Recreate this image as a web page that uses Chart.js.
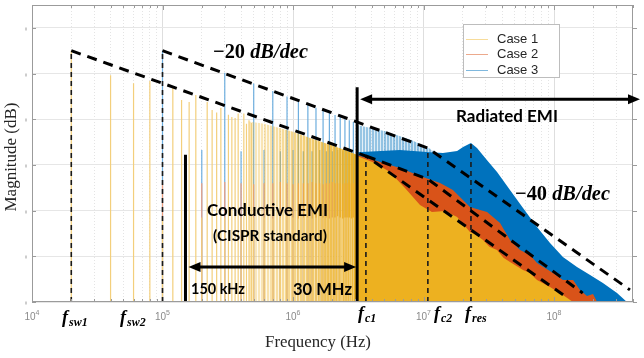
<!DOCTYPE html>
<html>
<head>
<meta charset="utf-8">
<title>EMI spectrum</title>
<script src="https://cdn.jsdelivr.net/npm/chart.js@4.4.1/dist/chart.umd.min.js"></script>
<style>
  html, body { margin: 0; padding: 0; background: #fff; }
  canvas { display: block; }
</style>
</head>
<body>
<canvas id="emiChart" width="644" height="358"></canvas>
<script>
// axes
const xMin = 1e4, xMax = 4.03e8;
const yMax = 130, yStep = 20;
const decadeTicks = [1e4, 1e5, 1e6, 1e7, 1e8];
const decadeExp = ['4', '5', '6', '7', '8'];

// Case 1 separate harmonics (Hz, dB)
const case1Freq = [2e4, 4e4, 6e4, 8e4, 1e5, 1.2e5, 1.4e5, 1.6e5, 1.8e5, 2e5, 2.2e5, 2.4e5, 2.6e5, 2.8e5, 3e5,
  3.2e5, 3.4e5, 3.6e5, 3.8e5, 4e5, 4.2e5, 4.4e5, 4.6e5, 4.8e5, 5e5,
  6e5, 7e5, 8e5, 9e5, 1e6, 1.1e6, 1.2e6, 1.3e6, 1.4e6, 1.5e6, 1.6e6, 1.7e6, 1.8e6, 1.9e6, 2e6,
  2.1e6, 2.2e6, 2.3e6, 2.4e6, 2.5e6, 2.6e6, 2.7e6, 2.8e6, 2.9e6];
const case1Mag = [110, 99.3, 95.8, 96.7, 37, 94.1, 88.4, 87.5, 90.6, 37, 87.5, 84, 83, 85, 37,
  82, 81, 80.5, 82.5, 37, 82.5, 78, 79.5, 78.5, 37,
  37, 36.5, 37, 37.5, 37, 36.5, 37, 37, 36.5, 37, 37.5, 37, 37, 36.5, 37,
  37, 37.5, 37, 36.5, 37, 37, 37, 36.5, 37];
// Case 1 dense comb (top of the harmonics) and continuous part
const case1BandFreq = [4.6e5, 6e5, 8e5, 1e6, 1.4e6, 2e6, 2.5e6, 3.09e6];
const case1BandMag = [79, 78, 76, 74.5, 71.5, 68.5, 66.5, 64.5];
const case1AreaFreq = [3.09e6, 4.25e6, 5.53e6, 7.21e6, 9.4e6, 1.16e7, 1.46e7, 1.81e7, 2.27e7, 2.5e7, 2.86e7,
  3.2e7, 3.66e7, 4.1e7, 4.6e7, 5.79e7, 6.5e7, 7.41e7, 9.32e7, 1.17e8, 1.4e8];
const case1AreaMag = [63.9, 60.8, 56.9, 49.9, 42.5, 39.4, 39.8, 37.2, 30.6, 29.5, 27.1,
  24.2, 22.8, 19.4, 17.5, 14.0, 12.8, 9.6, 6.6, 3.1, 0];

// harmonics of f_sw2 shared by Case 2 and Case 3
const combFreq = [1e5, 2e5, 3e5, 4e5, 5e5, 6e5, 7e5, 8e5, 9e5, 1e6, 1.1e6, 1.2e6, 1.3e6, 1.4e6, 1.5e6,
  1.6e6, 1.7e6, 1.8e6, 1.9e6, 2e6, 2.1e6, 2.2e6, 2.3e6, 2.4e6, 2.5e6, 2.6e6, 2.7e6, 2.8e6, 2.9e6];
const case2Mag = [52, 52, 52.5, 52, 51.5, 52, 52, 52.5, 52, 51.5, 52, 52, 52, 52.5, 52,
  52, 51.5, 52, 52, 52.5, 52, 52, 52, 51.5, 52, 52, 52.5, 52, 52];
const case3Mag = [110, 66.5, 100.3, 66, 95.6, 66.5, 92.4, 66, 90, 66.5, 88, 66, 86.5, 66, 85,
  66.5, 83.8, 66, 82.8, 66, 81.8, 66.5, 81, 66, 80.2, 66, 79.5, 66, 78.8];

// Case 2 continuous part
const case2AreaFreq = [3.09e6, 4.65e6, 6.6e6, 9.4e6, 1.34e7, 1.68e7, 2.27e7, 2.71e7, 3.07e7, 3.86e7, 4.6e7,
  5.49e7, 6.55e7, 7.41e7, 9.83e7, 1.17e8, 1.4e8, 1.58e8, 1.79e8, 1.99e8, 2.14e8];
const case2AreaMag = [64.3, 61.3, 58.6, 55.1, 52.1, 49.0, 41.6, 40.3, 39.4, 34.6, 27.1,
  22.8, 20.6, 17.1, 12.7, 9.6, 9.6, 5.3, 2.6, 3.5, 0];

// Case 3 dense comb and continuous part
const case3BandFreq = [3.09e6, 5e6, 8e6, 1.1e7, 1.2e7];
const case3BandMag = [77.5, 74.8, 71, 67.3, 65.8];
const case3AreaFreq = [3.09e6, 6.6e6, 1.12e7, 1.41e7, 1.81e7, 2.01e7, 2.31e7, 2.57e7, 3.07e7, 3.66e7, 4.6e7,
  5.79e7, 7.41e7, 9.32e7, 1.17e8, 1.5e8, 1.89e8, 2.37e8, 3.04e8, 3.62e8];
const case3AreaMag = [65.6, 66.5, 65.6, 65.2, 66.1, 67.8, 69.6, 67.4, 62.1, 56.9, 49.0,
  41.1, 32.8, 25.8, 19.7, 15.3, 11.8, 8.3, 3.9, 0];

// asymptotes (-20 / -40 dB/dec)
const env1Freq = [2e4, 3.62e6, 1.27e8], env1Mag = [110, 63.9, 1.8];
const env2Freq = [3.62e6, 1.08e7, 1.66e8], env2Mag = [63.9, 53.8, 3.9];
const env3Freq = [1e5, 1.08e7, 3.82e8], env3Mag = [110, 67.4, 5.3];

// f_sw1, f_sw2, f_c1, f_c2, f_res markers
const markerFreq = [2e4, 1e5, 3.62e6, 1.08e7, 2.31e7];
const markerTop = [110, 110, 63.9, 67, 69.6];
// 150 kHz and "30 MHz" limits
const limitFreq = [1.5e5, 3.1e6];
const limitTop = [64.5, 94];

const caseNames = ['Case 1', 'Case 2', 'Case 3'];
const caseColors = ['#EDB120', '#D95319', '#0072BD'];
const stemColors = ['#f3cf7c', '#ef9f80', '#6eaede'];

function points(freq, mag) {
  return freq.map((f, i) => ({ x: f, y: mag[i] }));
}

function stems(freq, mag) {
  const pts = [];
  freq.forEach((f, i) => {
    pts.push({ x: f, y: 0 }, { x: f, y: mag[i] }, { x: f, y: null });
  });
  return pts;
}

const gridFreq = [];
for (let d = 4; d <= 8; d++) {
  for (let m = 1; m <= 9; m++) {
    const v = m * Math.pow(10, d);
    if (v <= xMax) gridFreq.push(v);
  }
}
const isDecade = v => Math.abs(Math.log10(v) - Math.round(Math.log10(v))) < 1e-9;

function area(freq, mag, color, order) {
  return { data: points(freq, mag), fill: 'origin', backgroundColor: color, borderWidth: 0, pointRadius: 0, order };
}
function stemSet(freq, mag, color, width, order, dash) {
  return { data: stems(freq, mag), borderColor: color, borderWidth: width, pointRadius: 0, fill: false,
    borderDash: dash || [], order };
}
function envSet(freq, mag) {
  return { data: points(freq, mag), borderColor: '#000', borderWidth: 3, borderDash: [10, 7],
    pointRadius: 0, fill: false, order: 2 };
}

// striped fill for the dense comb of harmonics, fading in from left to right
function combTexture(freq, rgb, a0, a1, offFrom, offTo) {
  return ctx => {
    const chart = ctx.chart;
    if (!chart.chartArea) return 'rgba(' + rgb + ',' + a1 + ')';
    const xs = chart.scales.x;
    const off = document.createElement('canvas');
    off.width = chart.width;
    off.height = 1;
    const o = off.getContext('2d');
    const x0 = Math.floor(xs.getPixelForValue(freq[0]));
    const x1 = Math.ceil(xs.getPixelForValue(freq[freq.length - 1]));
    for (let x = x0; x <= x1; x++) {
      const t = (x - x0) / Math.max(1, x1 - x0);
      const alpha = a0 + (a1 - a0) * Math.pow(t, 1.2);
      const k = (x % 3 === 2) ? offFrom + (offTo - offFrom) * t : 1;
      o.fillStyle = 'rgba(' + rgb + ',' + (alpha * k).toFixed(3) + ')';
      o.fillRect(x, 0, 1, 1);
    }
    return chart.ctx.createPattern(off, 'repeat-y');
  };
}

const datasets = [
  area(case3BandFreq, case3BandMag, combTexture(case3BandFreq, '0,114,189', 0.4, 0.5, 0.25, 0.45), 20),
  area(case3AreaFreq, case3AreaMag, caseColors[2], 19),
  stemSet(combFreq, case3Mag, stemColors[2], 1.2, 18),
  area(case2AreaFreq, case2AreaMag, caseColors[1], 17),
  stemSet(combFreq, case2Mag, stemColors[1], 1.2, 16),
  area(case1BandFreq, case1BandMag, combTexture(case1BandFreq, '237,177,32', 0.28, 1, 0.15, 0.8), 15),
  area(case1AreaFreq, case1AreaMag, caseColors[0], 14),
  stemSet(case1Freq, case1Mag, stemColors[0], 1.2, 13),
  stemSet(markerFreq, markerTop, '#1a1a1a', 1.6, 4, [5, 4]),
  stemSet(limitFreq, limitTop, '#000', 3, 3),
  envSet(env1Freq, env1Mag),
  envSet(env2Freq, env2Mag),
  envSet(env3Freq, env3Mag)
];

function textW(c, txt, cx, cy, w, font) {
  c.font = font(20);
  const s = 20 * w / c.measureText(txt).width;
  c.font = font(s);
  c.textAlign = 'center';
  c.textBaseline = 'middle';
  c.fillText(txt, cx, cy);
}

// "-20 dB/dec": upright number, italic unit, scaled to a width
function slopeText(c, num, unit, cx, cy, w) {
  const up = s => 'bold ' + s + 'px "Liberation Serif"';
  const it = s => 'bold italic ' + s + 'px "Liberation Serif"';
  c.font = up(20);
  const a = c.measureText(num).width;
  c.font = it(20);
  const b = c.measureText(unit).width;
  const s = 20 * w / (a + b);
  c.textAlign = 'left';
  c.textBaseline = 'middle';
  const x0 = cx - w / 2;
  c.font = up(s);
  c.fillText(num, x0, cy);
  c.font = it(s);
  c.fillText(unit, x0 + a * s / 20, cy);
}

function arrowHead(c, tipX, y, dir) {
  c.beginPath();
  c.moveTo(tipX, y);
  c.lineTo(tipX - dir * 12, y - 5);
  c.lineTo(tipX - dir * 12, y + 5);
  c.closePath();
  c.fill();
}

function arrow(c, x1, x2, y) {
  c.lineWidth = 3;
  c.beginPath();
  c.moveTo(x1 + 8, y);
  c.lineTo(x2 - 8, y);
  c.stroke();
  arrowHead(c, x1, y, -1);
  arrowHead(c, x2, y, 1);
}

function fLabel(c, sub, x, base) {
  c.textAlign = 'left';
  c.textBaseline = 'alphabetic';
  c.font = 'bold italic 18px "Liberation Serif"';
  c.fillText('f', x, base);
  const w = c.measureText('f').width;
  c.font = 'bold italic 12px "Liberation Serif"';
  c.fillText(sub, x + w + 1, base + 3);
}

const overlay = {
  id: 'overlay',
  afterDraw(chart) {
    const c = chart.ctx, a = chart.chartArea, xs = chart.scales.x, ys = chart.scales.y;
    c.save();

    // box and inward ticks
    c.strokeStyle = '#9b9b9b';
    c.lineWidth = 1;
    c.strokeRect(a.left + 0.5, a.top + 0.5, a.right - a.left - 1, a.bottom - a.top - 1);
    c.beginPath();
    gridFreq.forEach(v => {
      const x = Math.round(xs.getPixelForValue(v)) + 0.5;
      const len = isDecade(v) ? 5 : 3;
      c.moveTo(x, a.top); c.lineTo(x, a.top + len);
      c.moveTo(x, a.bottom); c.lineTo(x, a.bottom - len);
    });
    for (let v = 0; v <= 120; v += yStep) {
      const y = Math.round(ys.getPixelForValue(v)) + 0.5;
      c.moveTo(a.left, y); c.lineTo(a.left + 4, y);
      c.moveTo(a.right, y); c.lineTo(a.right + 4, y);
      c.moveTo(a.left - 6, y - 1); c.lineTo(a.left - 6, y + 2);
    }
    c.stroke();

    // decade labels 10^n
    c.fillStyle = '#8a8a8a';
    c.textBaseline = 'alphabetic';
    decadeTicks.forEach((v, i) => {
      const x = xs.getPixelForValue(v);
      c.font = '10px "Liberation Sans"';
      const w1 = c.measureText('10').width;
      c.font = '7px "Liberation Sans"';
      const w2 = c.measureText(decadeExp[i]).width;
      const x0 = x - (w1 + w2) / 2;
      c.font = '10px "Liberation Sans"';
      c.textAlign = 'left';
      c.fillText('10', x0, 320);
      c.font = '7px "Liberation Sans"';
      c.fillText(decadeExp[i], x0 + w1, 315);
    });

    // axis titles
    c.fillStyle = '#262626';
    textW(c, 'Frequency (Hz)', 318, 343, 106, s => s + 'px "Liberation Serif"');
    c.save();
    c.translate(12, 157);
    c.rotate(-Math.PI / 2);
    textW(c, 'Magnitude (dB)', 0, 0, 109, s => s + 'px "Liberation Serif"');
    c.restore();

    // arrows
    c.fillStyle = '#000';
    c.strokeStyle = '#000';
    const x150k = xs.getPixelForValue(limitFreq[0]);
    const x30M = xs.getPixelForValue(limitFreq[1]);
    arrow(c, x30M + 3, 640, ys.getPixelForValue(88.8));
    arrow(c, x150k + 3, x30M - 1, ys.getPixelForValue(15.3));

    // annotations
    const sans = s => 'bold ' + s + 'px Lato';
    textW(c, 'Radiated EMI', 507, 117, 102, sans);
    textW(c, 'Conductive EMI', 267.5, 211, 121, sans);
    textW(c, '(CISPR standard)', 270, 236, 114, sans);
    textW(c, '150 kHz', 218, 289, 54, sans);
    textW(c, '30 MHz', 322.5, 290, 59, sans);
    slopeText(c, '\u221220 ', 'dB/dec', 260.5, 53, 95);
    slopeText(c, '\u221240 ', 'dB/dec', 562.5, 195, 95);

    fLabel(c, 'sw1', 62, 323);
    fLabel(c, 'sw2', 120, 323);
    fLabel(c, 'c1', 358, 319);
    fLabel(c, 'c2', 434, 319);
    fLabel(c, 'res', 465, 319);

    // legend
    c.fillStyle = '#fff';
    c.fillRect(463, 24, 97, 54);
    c.strokeStyle = '#bdbdbd';
    c.lineWidth = 1;
    c.strokeRect(463.5, 24.5, 96, 53);
    const legendY = [39, 54, 70];
    const legendLine = ['rgba(237,177,32,0.45)', 'rgba(217,83,25,0.5)', 'rgba(0,114,189,0.5)'];
    caseNames.forEach((name, i) => {
      c.strokeStyle = legendLine[i];
      c.lineWidth = 1;
      c.beginPath();
      c.moveTo(466, legendY[i] + 0.5);
      c.lineTo(488, legendY[i] + 0.5);
      c.stroke();
      c.fillStyle = '#262626';
      c.font = '13px "Liberation Sans"';
      c.textAlign = 'left';
      c.textBaseline = 'middle';
      c.fillText(name, 497, legendY[i]);
    });

    c.restore();
  }
};

new Chart(document.getElementById('emiChart'), {
  type: 'line',
  data: { datasets },
  options: {
    responsive: false,
    animation: false,
    events: [],
    layout: { padding: { top: 5, right: 11, left: 0, bottom: 0 } },
    plugins: { legend: { display: false }, tooltip: { enabled: false } },
    elements: { line: { tension: 0, borderCapStyle: 'butt' } },
    scales: {
      x: {
        type: 'logarithmic',
        min: xMin,
        max: xMax,
        afterBuildTicks: s => { s.ticks = gridFreq.map(v => ({ value: v })); },
        afterFit: s => { s.height = 56; },
        ticks: { display: false, autoSkip: false },
        grid: {
          drawTicks: false,
          color: ctx => (ctx.tick && isDecade(ctx.tick.value)) ? '#dedede' : '#e4e4e4'
        },
        border: {
          display: false,
          dash: ctx => (ctx.tick && isDecade(ctx.tick.value)) ? [] : [1, 2]
        }
      },
      y: {
        type: 'linear',
        min: 0,
        max: yMax,
        afterBuildTicks: s => {
          const t = [];
          for (let v = 0; v <= 120; v += yStep) t.push({ value: v });
          s.ticks = t;
        },
        afterFit: s => { s.width = 32; },
        ticks: { display: false },
        grid: { drawTicks: false, color: '#e6e6e6' },
        border: { display: false }
      }
    }
  },
  plugins: [overlay]
});
</script>
</body>
</html>
